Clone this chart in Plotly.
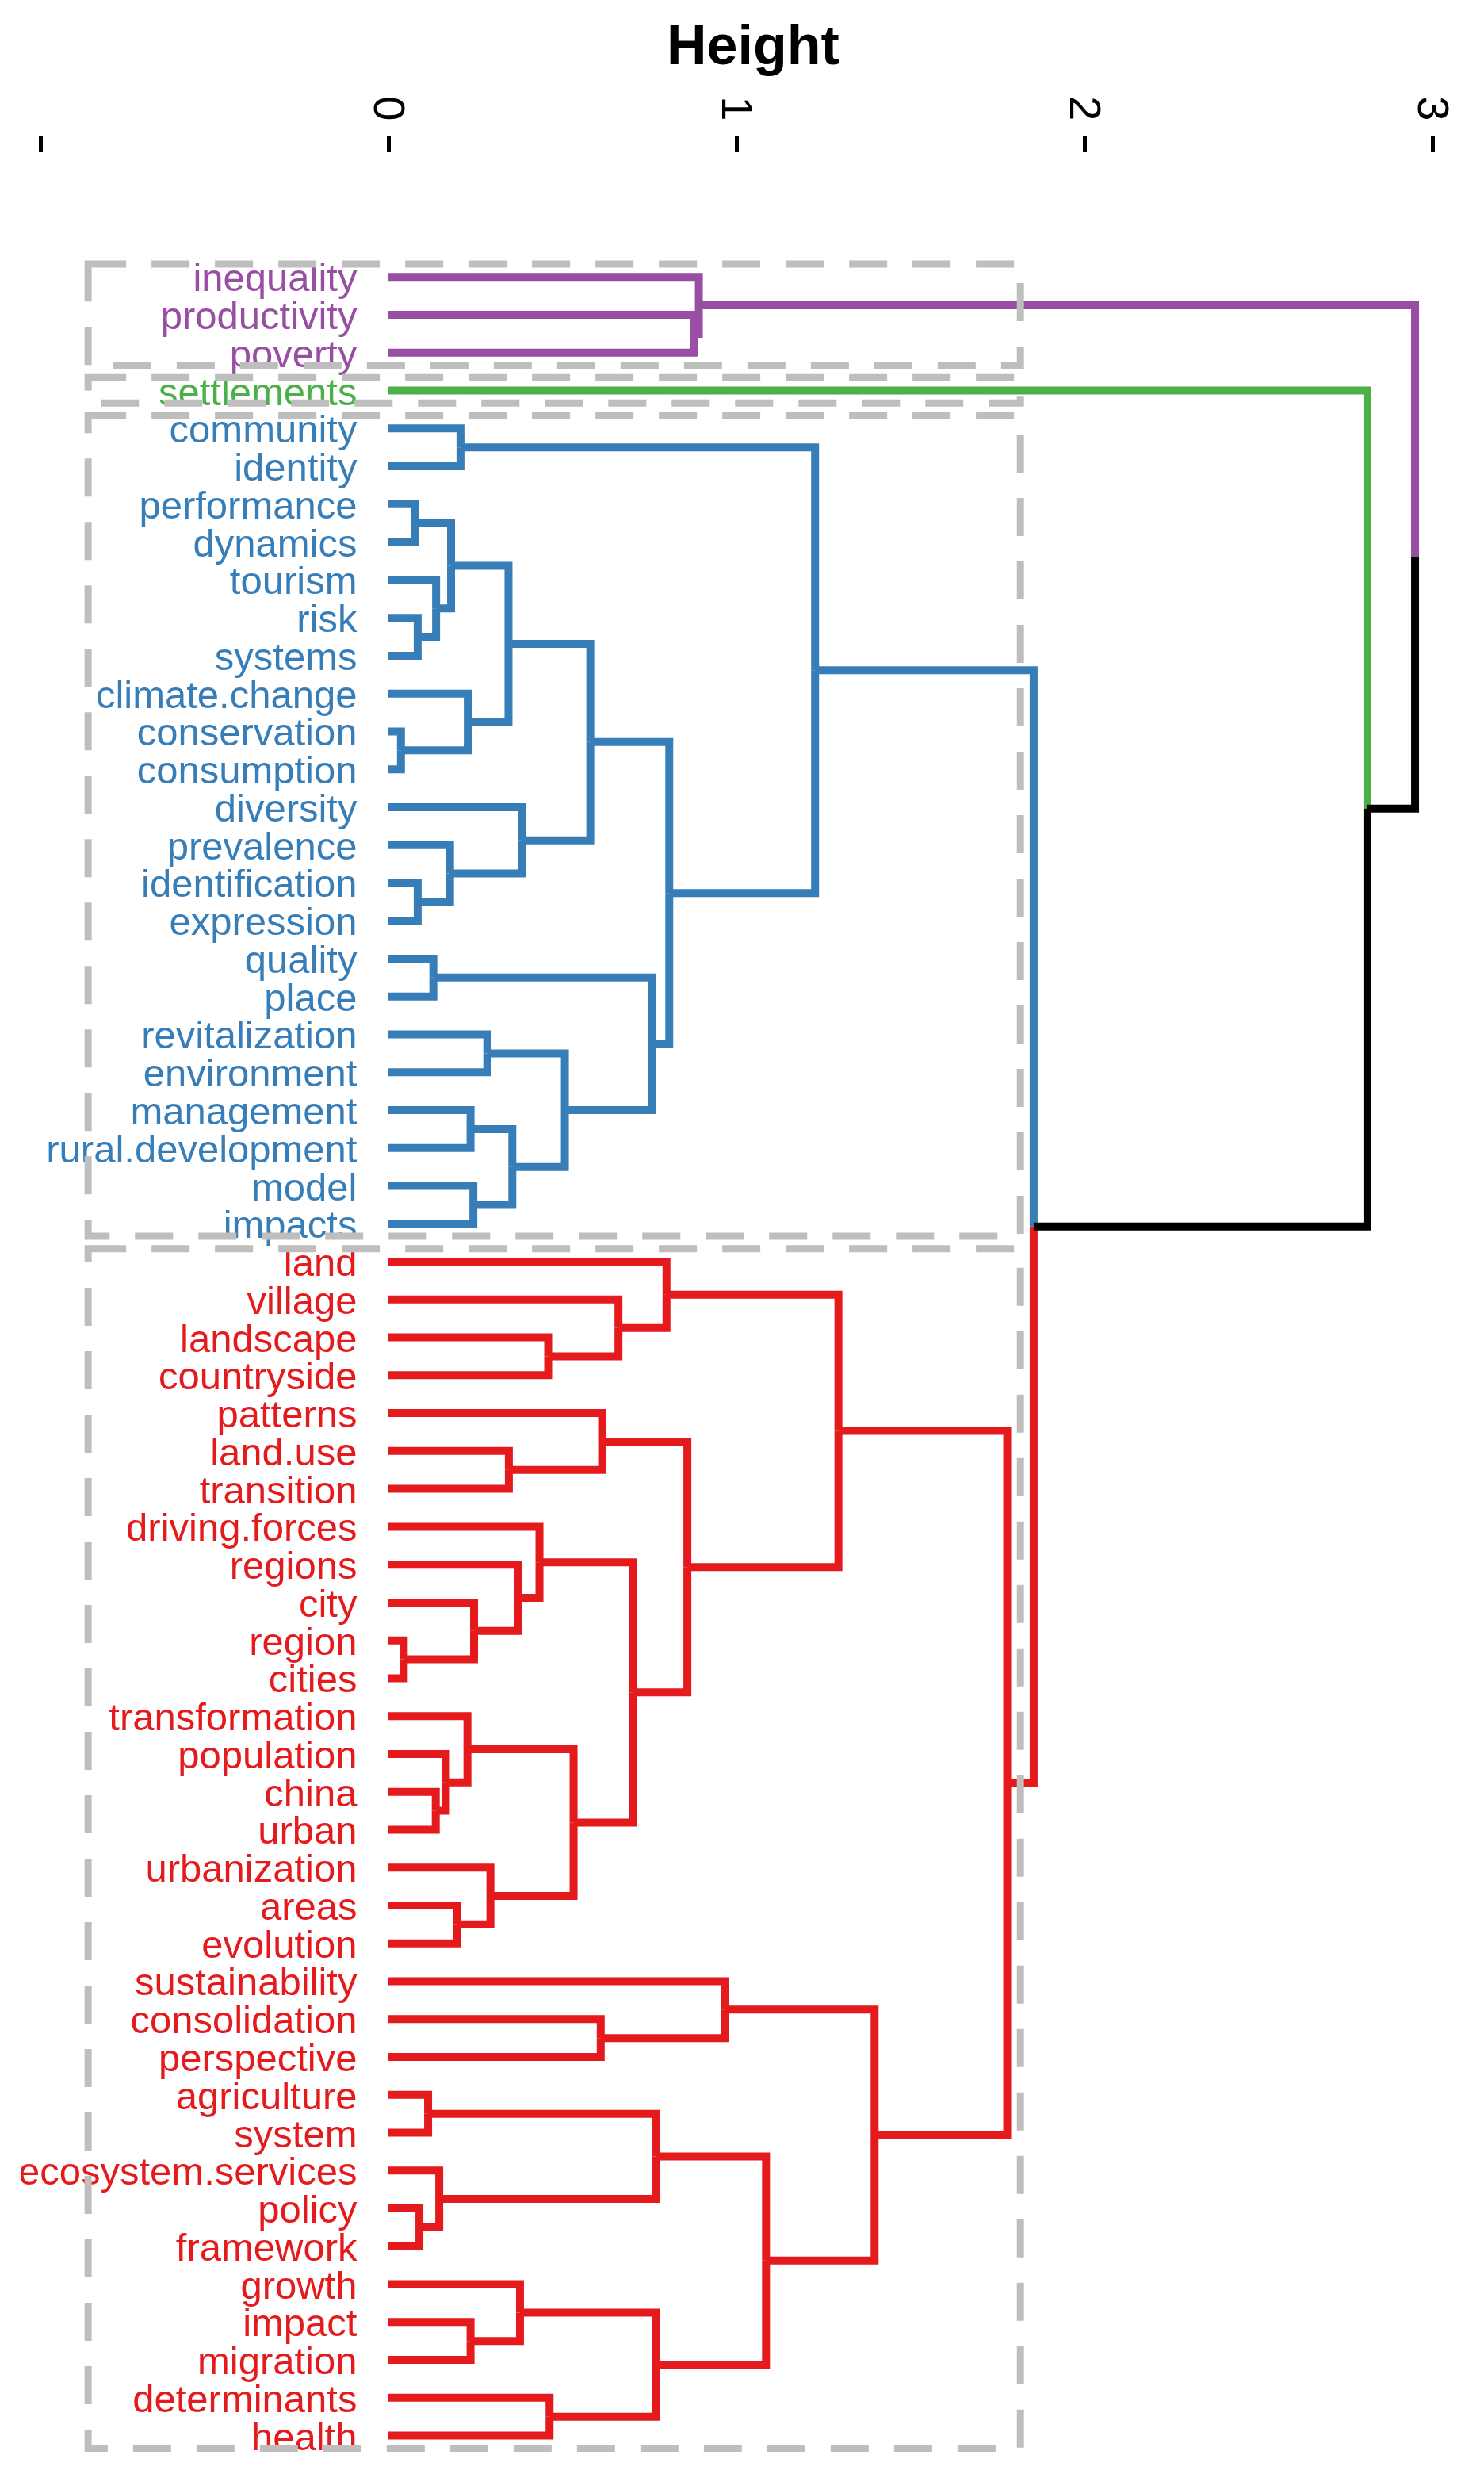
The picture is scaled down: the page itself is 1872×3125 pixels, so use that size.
import plotly.graph_objects as go

# ---------------- data ----------------
LEAF_LABELS = [
    "inequality", "productivity", "poverty", "settlements",
    "community", "identity", "performance", "dynamics", "tourism", "risk", "systems",
    "climate.change", "conservation", "consumption", "diversity", "prevalence",
    "identification", "expression", "quality", "place", "revitalization", "environment",
    "management", "rural.development", "model", "impacts",
    "land", "village", "landscape", "countryside", "patterns", "land.use", "transition",
    "driving.forces", "regions", "city", "region", "cities", "transformation", "population",
    "china", "urban", "urbanization", "areas", "evolution", "sustainability", "consolidation",
    "perspective", "agriculture", "system", "ecosystem.services", "policy", "framework",
    "growth", "impact", "migration", "determinants", "health",
]

MERGE_NAME = ["P1", "P2",
              "B1", "B2", "B3", "B4", "B5", "B6", "B7", "B8", "B9", "B10", "B11", "B12",
              "B13", "B14", "B15", "B16", "B17", "B18", "B19", "B20", "B21",
              "R1", "R2", "R3", "R4", "R5", "R6", "R7", "R8", "R9", "R10", "R11", "R12",
              "R13", "R14", "R15", "R16", "R17", "R18", "R19", "R20", "R21", "R22", "R23",
              "R24", "R25", "R26", "R27", "R28", "R29", "R30", "R31",
              "T1", "T2", "T3"]
MERGE_LEFT = ["productivity", "inequality",
              "community", "performance", "risk", "tourism", "B2", "conservation",
              "climate.change", "B5", "identification", "prevalence", "diversity", "B8",
              "quality", "revitalization", "management", "model", "B15", "B14", "B13",
              "B12", "B1",
              "landscape", "village", "land", "land.use", "patterns", "region", "city",
              "regions", "driving.forces", "china", "population", "transformation", "areas",
              "urbanization", "R12", "R9", "R5", "R3", "consolidation", "sustainability",
              "agriculture", "policy", "ecosystem.services", "R21", "impact", "growth",
              "determinants", "R26", "R24", "R20", "R18",
              "B21", "settlements", "P2"]
MERGE_RIGHT = ["poverty", "P1",
               "identity", "dynamics", "systems", "B3", "B4", "consumption", "B6", "B7",
               "expression", "B9", "B10", "B11", "place", "environment",
               "rural.development", "impacts", "B16", "B17", "B18", "B19", "B20",
               "countryside", "R1", "R2", "transition", "R4", "cities", "R6", "R7", "R8",
               "urban", "R10", "R11", "evolution", "R13", "R14", "R15", "R16", "R17",
               "perspective", "R19", "system", "framework", "R22", "R23", "migration",
               "R25", "health", "R27", "R28", "R29", "R30",
               "R31", "T1", "T2"]
MERGE_HEIGHT = [0.878, 0.892,
                0.207, 0.077, 0.084, 0.137, 0.180, 0.036, 0.228, 0.345, 0.084, 0.177,
                0.384, 0.580, 0.129, 0.284, 0.236, 0.244, 0.356, 0.507, 0.758, 0.807, 1.226,
                0.459, 0.661, 0.799, 0.346, 0.614, 0.044, 0.246, 0.372, 0.434, 0.136,
                0.165, 0.227, 0.198, 0.293, 0.532, 0.702, 0.859, 1.293, 0.610, 0.968,
                0.114, 0.089, 0.146, 0.770, 0.236, 0.378, 0.463, 0.768, 1.085, 1.397, 1.778,
                1.854, 2.813, 2.950]

CLUSTER_ROOTS = ["P2", "settlements", "B21", "R31"]
CLUSTER_COLORS = ["#984EA3", "#4DAF4A", "#377EB8", "#E41A1C"]
K = 4

AXIS_TICKS = [-1, 0, 1, 2, 3]
AXIS_TICKTEXT = ["", "0", "1", "2", "3"]

# ---------------- tree layout ----------------
children = {n: (l, r) for n, l, r in zip(MERGE_NAME, MERGE_LEFT, MERGE_RIGHT)}
height = {n: h for n, h in zip(MERGE_NAME, MERGE_HEIGHT)}
for lab in LEAF_LABELS:
    height[lab] = 0.0
root = MERGE_NAME[-1]

order = []
def walk(n):
    if n in children:
        walk(children[n][0]); walk(children[n][1])
    else:
        order.append(n)
walk(root)
leaf_pos = {lab: i + 1 for i, lab in enumerate(order)}

pos = {}
def getpos(n):
    if n not in pos:
        if n in children:
            pos[n] = (getpos(children[n][0]) + getpos(children[n][1])) / 2.0
        else:
            pos[n] = leaf_pos[n]
    return pos[n]
getpos(root)

color = {}
def paint(n, c):
    color[n] = c
    if n in children:
        for ch in children[n]:
            paint(ch, c)
def assign(n):
    if n in CLUSTER_ROOTS:
        paint(n, CLUSTER_COLORS[CLUSTER_ROOTS.index(n)])
    else:
        color[n] = "#000000"
        if n in children:
            for ch in children[n]:
                assign(ch)
assign(root)

def leaves_under(n):
    if n in children:
        return leaves_under(children[n][0]) + leaves_under(children[n][1])
    return [n]

segs = {}
for n in MERGE_NAME:
    for ch in children[n]:
        c = color[ch]
        xs, ys = segs.setdefault(c, ([], []))
        xs += [height[n], height[n], height[ch], None]
        ys += [pos[n], pos[ch], pos[ch], None]

fig = go.Figure()
for c, (xs, ys) in segs.items():
    fig.add_trace(go.Scatter(x=xs, y=ys, mode="lines",
                             line=dict(color=c, width=10),
                             cliponaxis=False,
                             hoverinfo="skip", showlegend=False))

LABEL_DY = 0.12  # label baseline offset (R centres labels slightly below the leaf)
fig.add_trace(go.Scatter(
    x=[-0.090] * len(order), y=[leaf_pos[l] + LABEL_DY for l in order],
    mode="text", text=order, textposition="middle left",
    textfont=dict(family="Liberation Sans, Arial, sans-serif", size=49,
                  color=[color[l] for l in order]),
    cliponaxis=True, hoverinfo="skip", showlegend=False))

# dashed cluster rectangles (rect.hclust style)
top_heights = sorted(MERGE_HEIGHT, reverse=True)
rect_h = (top_heights[K - 2] + top_heights[K - 1]) / 2.0
shapes = []
for r in CLUSTER_ROOTS:
    lv = leaves_under(r)
    ps = [leaf_pos[l] for l in lv]
    shapes.append(dict(type="rect", xref="x", yref="y",
                       x0=-0.863, x1=rect_h, y0=min(ps) - 0.34, y1=max(ps) + 0.33,
                       line=dict(color="#BEBEBE", width=9, dash="48px,32px"),
                       fillcolor="rgba(0,0,0,0)", layer="above"))

W, H = 1872, 3125
TOP = 193
LEFT = 27
px_per_unit = 439.0
zero_px = 490.0
leaf_sp = 47.76
first_leaf_px = 349.3
y_top = 1 - (first_leaf_px - TOP) / leaf_sp
y_bot = 1 + (H - first_leaf_px) / leaf_sp

fig.update_layout(
    width=W, height=H, autosize=False,
    margin=dict(l=LEFT, r=0, t=TOP, b=0, pad=0),
    plot_bgcolor="white", paper_bgcolor="white",
    shapes=shapes,
    xaxis=dict(range=[-(zero_px - LEFT) / px_per_unit, (W - zero_px) / px_per_unit],
               side="top", showgrid=False, zeroline=False, showline=False,
               tickvals=AXIS_TICKS, ticktext=AXIS_TICKTEXT, tickangle=90,
               ticks="outside", ticklen=20, tickwidth=5, tickcolor="black",
               tickfont=dict(family="Liberation Sans, Arial, sans-serif", size=56,
                             color="black")),
    yaxis=dict(range=[y_bot, y_top], visible=False, showgrid=False, zeroline=False),
    annotations=[dict(text="<b>Height</b>", xref="paper", yref="paper",
                      x=(950 - LEFT) / (W - LEFT), y=1 + (TOP - 57) / (H - TOP),
                      xanchor="center", yanchor="middle", showarrow=False,
                      font=dict(family="Liberation Sans, Arial, sans-serif",
                                size=70, color="black"))],
)

fig.write_html("out.html", config={"displayModeBar": False},
               post_script="document.body.style.margin='0';document.body.style.overflow='hidden';")
